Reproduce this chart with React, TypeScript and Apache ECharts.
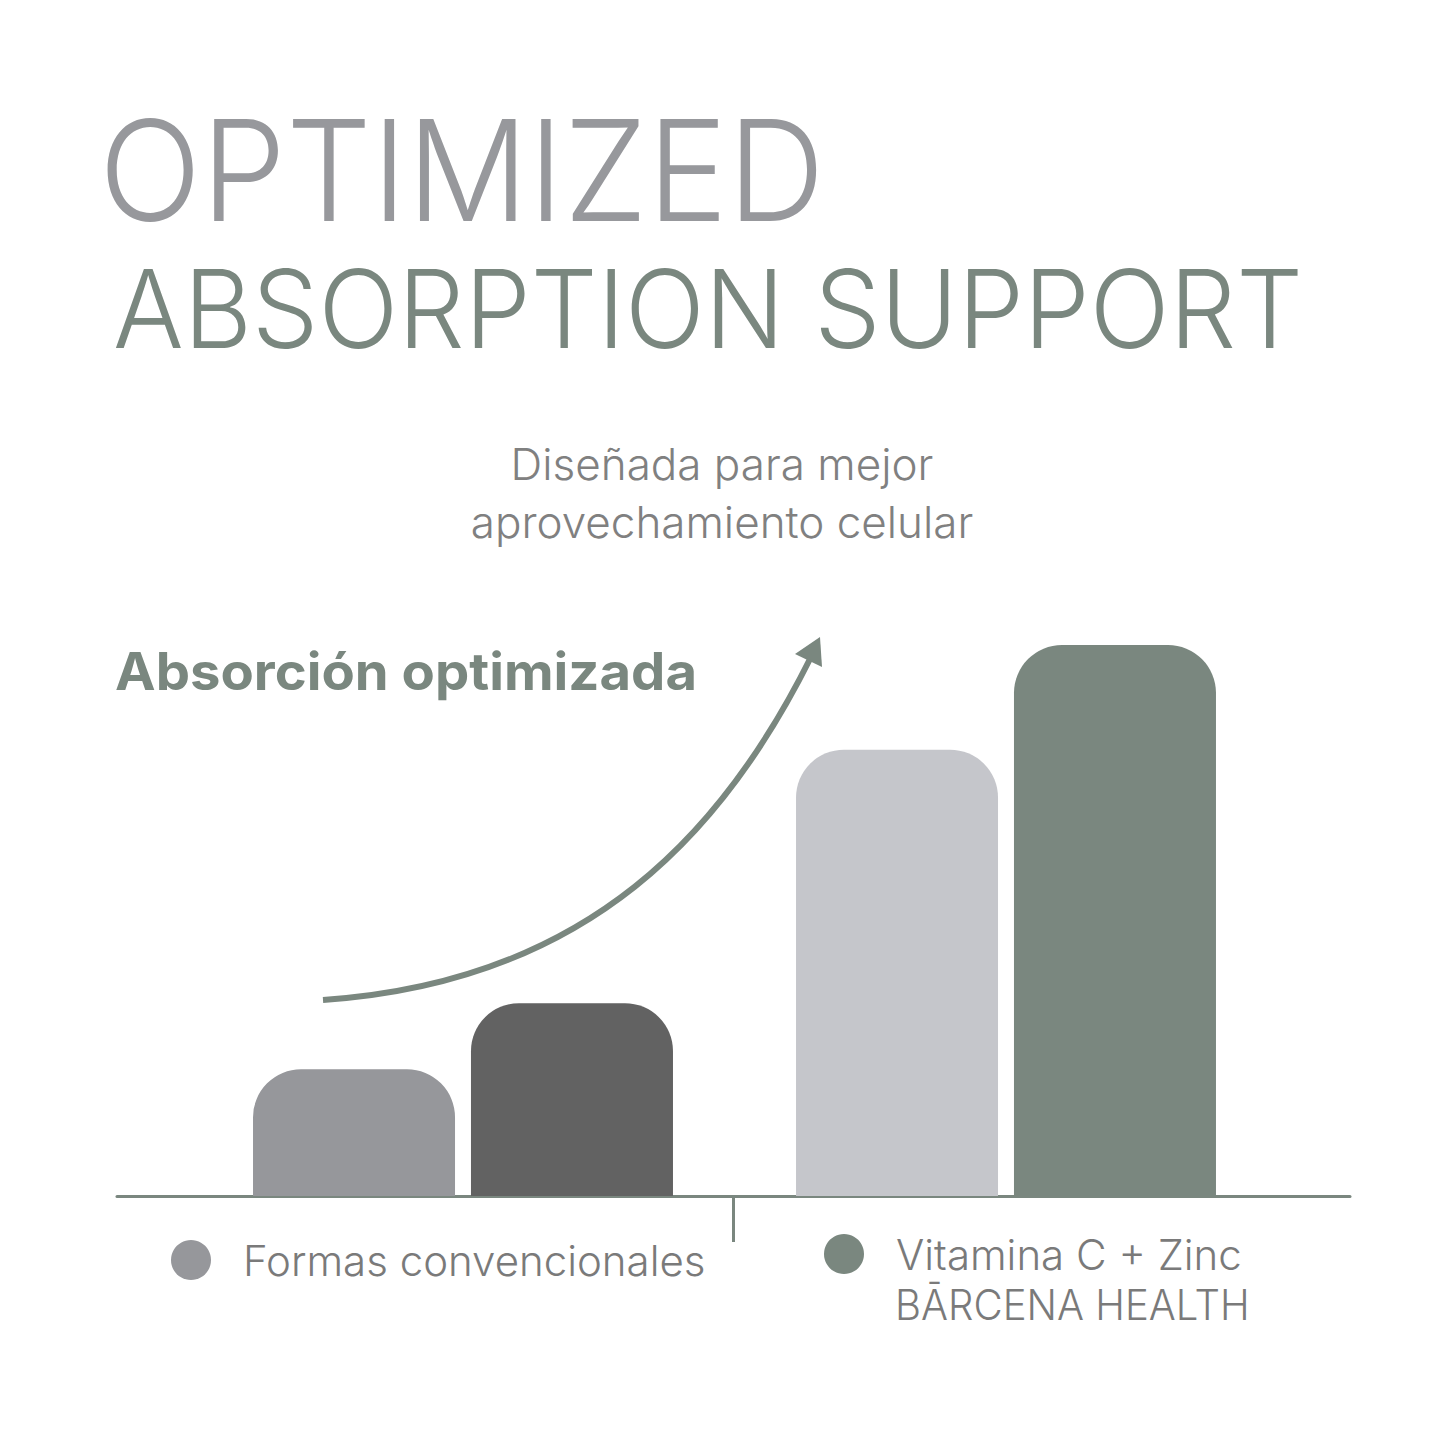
import React, { useEffect, useRef } from "react";
import * as echarts from "echarts";

const categories = ["Grupo 1", "Grupo 2"];
const seriesNames = ["Formas convencionales", "Vitamina C + Zinc"];
const conventionalValues = [23, 81];
const barcenaValues = [35, 100];
const conventionalColors = ["#96979b", "#c5c6cb"];
const barcenaColors = ["#626262", "#7a877f"];
const legendColors = ["#96979b", "#7a877f"];
const brandLine = "BĀRCENA HEALTH";
const titleLine1 = "OPTIMIZED";
const titleLine2 = "ABSORPTION SUPPORT";
const subtitleLines = ["Diseñada para mejor", "aprovechamiento celular"];
const callout = "Absorción optimizada";

const GREEN = "#7a877f";
const TEXT_GRAY = "#7a7a7a";

function measure(text: string, font: string): number {
  const c = document.createElement("canvas");
  const ctx = c.getContext("2d")!;
  ctx.font = font;
  return ctx.measureText(text).width;
}

export default function App() {
  const ref = useRef<HTMLDivElement>(null);
  useEffect(() => {
    document.body.style.margin = "0";
    if (!ref.current) return;
    const chart = echarts.init(ref.current, null, { renderer: "svg" });

    const t1Font = "300 140px Inter";
    const t2Font = "300 108px Inter";
    const cFont = "700 52px Inter";
    const bFont = "300 42px Inter";
    const s1 = 726 / measure(titleLine1, t1Font);
    const s2 = 1190 / measure(titleLine2, t2Font);
    const sc = 582 / measure(callout, cFont);
    const sb = 355 / measure(brandLine, bFont);

    const legendText = {
      fontFamily: "Inter",
      fontWeight: 300,
      fontSize: 42,
      lineHeight: 44,
      color: TEXT_GRAY,
      padding: [0, 0, 0, 27],
    };

    const option: any = {
      animation: false,
      backgroundColor: "#ffffff",
      grid: [
        { left: 191.5, right: 167.5, top: 645, bottom: 249 },
        { left: 117, right: 95, top: 645, bottom: 249 },
      ],
      xAxis: [
        {
          type: "category",
          gridIndex: 0,
          data: categories,
          axisLine: { show: false },
          axisTick: { show: false },
          axisLabel: { show: false },
        },
        {
          type: "value",
          gridIndex: 1,
          min: 0,
          max: 2,
          axisLine: { show: true, lineStyle: { color: GREEN, width: 3 } },
          axisTick: {
            show: true,
            customValues: [1],
            length: 46,
            lineStyle: { color: GREEN, width: 3 },
          },
          axisLabel: { show: false },
          splitLine: { show: false },
        },
      ],
      yAxis: [
        { type: "value", gridIndex: 0, min: 0, max: 100, show: false, splitLine: { show: false } },
        { type: "value", gridIndex: 1, min: 0, max: 100, show: false, splitLine: { show: false } },
      ],
      legend: [
        {
          data: [seriesNames[0]],
          left: 166,
          top: 1233,
          icon: "circle",
          itemWidth: 40,
          itemHeight: 40,
          textStyle: legendText,
          selectedMode: false,
        },
        {
          data: [seriesNames[1]],
          left: 819,
          top: 1227,
          icon: "circle",
          itemWidth: 40,
          itemHeight: 40,
          textStyle: legendText,
          selectedMode: false,
        },
      ],
      series: [
        {
          name: seriesNames[0],
          type: "bar",
          xAxisIndex: 0,
          yAxisIndex: 0,
          barWidth: 202,
          barGap: "7.9%",
          itemStyle: { color: legendColors[0], borderRadius: [48, 48, 0, 0] },
          data: conventionalValues.map((v, i) => ({
            value: v,
            itemStyle: { color: conventionalColors[i] },
          })),
        },
        {
          name: seriesNames[1],
          type: "bar",
          xAxisIndex: 0,
          yAxisIndex: 0,
          barWidth: 202,
          barGap: "7.9%",
          itemStyle: { color: legendColors[1], borderRadius: [48, 48, 0, 0] },
          data: barcenaValues.map((v, i) => ({
            value: v,
            itemStyle: { color: barcenaColors[i] },
          })),
        },
      ],
      graphic: [
        {
          type: "text",
          x: 99,
          y: 240,
          scaleX: s1,
          style: {
            text: titleLine1,
            font: t1Font,
            fill: "#97989c",
            verticalAlign: "bottom",
          },
        },
        {
          type: "text",
          x: 113,
          y: 363,
          scaleX: s2,
          style: {
            text: titleLine2,
            font: t2Font,
            fill: GREEN,
            verticalAlign: "bottom",
          },
        },
        {
          type: "text",
          x: 722,
          y: 464,
          style: {
            text: subtitleLines[0],
            font: "300 44px Inter",
            fill: "#808080",
            align: "center",
            verticalAlign: "middle",
          },
        },
        {
          type: "text",
          x: 722,
          y: 522,
          style: {
            text: subtitleLines[1],
            font: "300 44px Inter",
            fill: "#808080",
            align: "center",
            verticalAlign: "middle",
          },
        },
        {
          type: "text",
          x: 115,
          y: 671,
          scaleX: sc,
          style: {
            text: callout,
            font: cFont,
            fill: GREEN,
            verticalAlign: "middle",
          },
        },
        {
          type: "text",
          x: 895,
          y: 1305,
          scaleX: sb,
          style: {
            text: brandLine,
            font: bFont,
            fill: TEXT_GRAY,
            verticalAlign: "middle",
          },
        },
        {
          type: "bezierCurve",
          shape: { x1: 323, y1: 1000, cpx1: 590, cpy1: 982, cpx2: 725, cpy2: 830, x2: 811, y2: 657 },
          style: { stroke: GREEN, lineWidth: 6, fill: null },
        },
        {
          type: "polygon",
          shape: { points: [[820, 637], [795, 654], [822, 667]] },
          style: { fill: GREEN },
        },
      ],
    };
    chart.setOption(option);
    return () => chart.dispose();
  }, []);
  return <div ref={ref} style={{ width: 1445, height: 1445 }} />;
}
